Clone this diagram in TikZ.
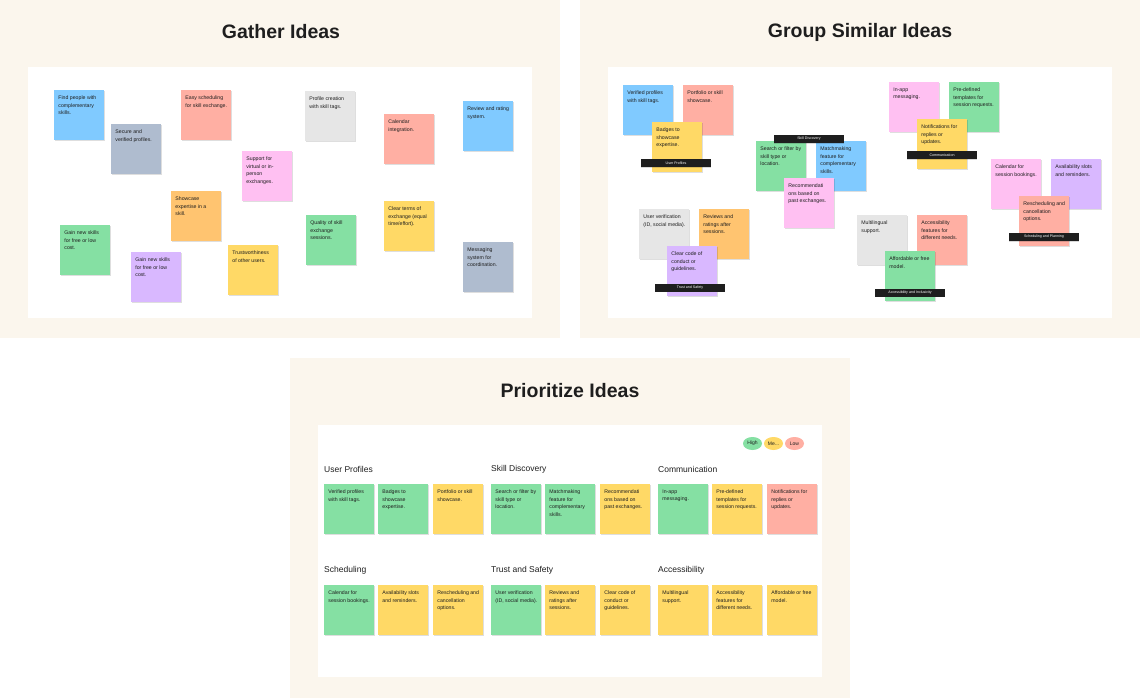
\documentclass[tikz,border=0pt]{standalone}
\usepackage{fontspec}
\setmainfont{Liberation Sans}
\usetikzlibrary{shadows,shapes.geometric}

\definecolor{cream}{HTML}{FBF6ED}
\definecolor{inkC}{HTML}{1E1E1E}
\definecolor{blueS}{HTML}{80CAFF}
\definecolor{slateS}{HTML}{AFBCCF}
\definecolor{salmonS}{HTML}{FFAFA3}
\definecolor{pinkS}{HTML}{FFC0F2}
\definecolor{orangeS}{HTML}{FFC470}
\definecolor{greenS}{HTML}{85E0A3}
\definecolor{yellowS}{HTML}{FFD966}
\definecolor{violetS}{HTML}{D9B8FF}
\definecolor{grayS}{HTML}{E6E6E6}

\tikzset{
  panel/.style={fill=cream, draw=none},
  board/.style={fill=white, draw=none},
  paneltitle/.style={font=\fontsize{19.5}{22}\selectfont\bfseries, text=inkC},
  sticky/.style={anchor=north west, minimum width=50pt, minimum height=50pt,
    inner sep=0pt, draw=none,
    general shadow={fill=black, opacity=0.13, shadow xshift=0.3pt, shadow yshift=-0.9pt}},
  notetext/.style={anchor=north west, inner sep=0pt, align=left, text=inkC,
    font=\fontsize{5.2}{7.6}\selectfont},
  groupbar/.style={fill=inkC, minimum width=70pt, minimum height=8pt, inner sep=0pt,
    text=white, font=\fontsize{3.6}{4}\selectfont,
    general shadow={fill=black, opacity=0.15, shadow yshift=-0.6pt}},
  grouphead/.style={anchor=west, inner sep=0pt, text=inkC, font=\fontsize{8.5}{10}\selectfont},
  pill/.style={ellipse, minimum width=19pt, minimum height=13pt, inner sep=0pt,
    font=\fontsize{5}{6}\selectfont, text=inkC},
}

% sticky note: name, x, y (top-left), colour, text
\newcommand\stickynote[5]{%
  \node[sticky, fill=#4] (#1) at (#2,#3) {};
  \node[notetext] (#1-txt) at ([xshift=4.2pt, yshift=-5.6pt]#1.north west) {#5};
}

\begin{document}
\begin{tikzpicture}[x=1pt, y=-1pt]
\useasboundingbox (0,0) rectangle (1140,698);
\fill[white] (0,0) rectangle (1140,698);

% ---------- panels and boards ----------
\path[panel] (0,0) rectangle (560,338);
\path[panel] (580,0) rectangle (1140,338);
\path[panel] (290,358) rectangle (850,698);
\path[board] (28,67) rectangle (532,318);
\path[board] (608,67) rectangle (1112,318);
\path[board] (318,425) rectangle (822,677);

\node[paneltitle] (t1) at (281,32) {Gather Ideas};
\node[paneltitle] (t2) at (860,32) {Group Similar Ideas};
\node[paneltitle] (t3) at (570,391) {Prioritize Ideas};

% ---------- gather ideas ----------
\stickynote{g1}{54}{90}{blueS}{Find people with\\complementary\\skills.}
\stickynote{g2}{111}{124}{slateS}{Secure and\\verified profiles.}
\stickynote{g3}{181}{90}{salmonS}{Easy scheduling\\for skill exchange.}
\stickynote{g4}{242}{151}{pinkS}{Support for\\virtual or in-\\person\\exchanges.}
\stickynote{g5}{305}{91}{grayS}{Profile creation\\with skill tags.}
\stickynote{g6}{384}{114}{salmonS}{Calendar\\integration.}
\stickynote{g7}{463}{101}{blueS}{Review and rating\\system.}
\stickynote{g8}{171}{191}{orangeS}{Showcase\\expertise in a\\skill.}
\stickynote{g9}{60}{225}{greenS}{Gain new skills\\for free or low\\cost.}
\stickynote{g10}{131}{252}{violetS}{Gain new skills\\for free or low\\cost.}
\stickynote{g11}{228}{245}{yellowS}{Trustworthiness\\of other users.}
\stickynote{g12}{306}{215}{greenS}{Quality of skill\\exchange\\sessions.}
\stickynote{g13}{384}{201}{yellowS}{Clear terms of\\exchange (equal\\time/effort).}
\stickynote{g14}{463}{242}{slateS}{Messaging\\system for\\coordination.}

% ---------- group similar ideas ----------
\stickynote{s1}{623}{85}{blueS}{Verified profiles\\with skill tags.}
\stickynote{s2}{683}{85}{salmonS}{Portfolio or skill\\showcase.}
\stickynote{s3}{652}{122}{yellowS}{Badges to\\showcase\\expertise.}
\node[groupbar] (b1) at (676,163) {User Profiles};

\stickynote{s4}{756}{141}{greenS}{Search or filter by\\skill type or\\location.}
\stickynote{s5}{816}{141}{blueS}{Matchmaking\\feature for\\complementary\\skills.}
\stickynote{s6}{784}{178}{pinkS}{Recommendati\\ons based on\\past exchanges.}
\node[groupbar] (b2) at (809,139) {Skill Discovery};

\stickynote{s7}{889}{82}{pinkS}{In-app\\messaging.}
\stickynote{s8}{949}{82}{greenS}{Pre-defined\\templates for\\session requests.}
\stickynote{s9}{917}{119}{yellowS}{Notifications for\\replies or\\updates.}
\node[groupbar] (b3) at (942,155) {Communication};

\stickynote{s10}{991}{159}{pinkS}{Calendar for\\session bookings.}
\stickynote{s11}{1051}{159}{violetS}{Availability slots\\and reminders.}
\stickynote{s12}{1019}{196}{salmonS}{Rescheduling and\\cancellation\\options.}
\node[groupbar] (b4) at (1044,237) {Scheduling and Planning};

\stickynote{s13}{639}{209}{grayS}{User verification\\(ID, social media).}
\stickynote{s14}{699}{209}{orangeS}{Reviews and\\ratings after\\sessions.}
\stickynote{s15}{667}{246}{violetS}{Clear code of\\conduct or\\guidelines.}
\node[groupbar] (b5) at (690,287.5) {Trust and Safety};

\stickynote{s16}{857}{215}{grayS}{Multilingual\\support.}
\stickynote{s17}{917}{215}{salmonS}{Accessibility\\features for\\different needs.}
\stickynote{s18}{885}{251}{greenS}{Affordable or free\\model.}
\node[groupbar] (b6) at (910,292.5) {Accessibility and Inclusivity};

% ---------- prioritize ideas ----------
\node[pill, fill=greenS] (pHigh) at (752.5,443.5) {High};
\node[pill, fill=yellowS] (pMed) at (773.5,443.5) {Me...};
\node[pill, fill=salmonS] (pLow) at (794.5,443.5) {Low};

\node[grouphead] (h1) at (324,469) {User Profiles};
\node[grouphead] (h2) at (491,469) {Skill Discovery};
\node[grouphead] (h3) at (658,469) {Communication};
\node[grouphead] (h4) at (324,570) {Scheduling};
\node[grouphead] (h5) at (491,570) {Trust and Safety};
\node[grouphead] (h6) at (658,570) {Accessibility};

\stickynote{p1}{324}{484}{greenS}{Verified profiles\\with skill tags.}
\stickynote{p2}{378}{484}{greenS}{Badges to\\showcase\\expertise.}
\stickynote{p3}{433}{484}{yellowS}{Portfolio or skill\\showcase.}
\stickynote{p4}{491}{484}{greenS}{Search or filter by\\skill type or\\location.}
\stickynote{p5}{545}{484}{greenS}{Matchmaking\\feature for\\complementary\\skills.}
\stickynote{p6}{600}{484}{yellowS}{Recommendati\\ons based on\\past exchanges.}
\stickynote{p7}{658}{484}{greenS}{In-app\\messaging.}
\stickynote{p8}{712}{484}{yellowS}{Pre-defined\\templates for\\session requests.}
\stickynote{p9}{767}{484}{salmonS}{Notifications for\\replies or\\updates.}

\stickynote{p10}{324}{585}{greenS}{Calendar for\\session bookings.}
\stickynote{p11}{378}{585}{yellowS}{Availability slots\\and reminders.}
\stickynote{p12}{433}{585}{yellowS}{Rescheduling and\\cancellation\\options.}
\stickynote{p13}{491}{585}{greenS}{User verification\\(ID, social media).}
\stickynote{p14}{545}{585}{yellowS}{Reviews and\\ratings after\\sessions.}
\stickynote{p15}{600}{585}{yellowS}{Clear code of\\conduct or\\guidelines.}
\stickynote{p16}{658}{585}{yellowS}{Multilingual\\support.}
\stickynote{p17}{712}{585}{yellowS}{Accessibility\\features for\\different needs.}
\stickynote{p18}{767}{585}{yellowS}{Affordable or free\\model.}
\end{tikzpicture}
\end{document}
